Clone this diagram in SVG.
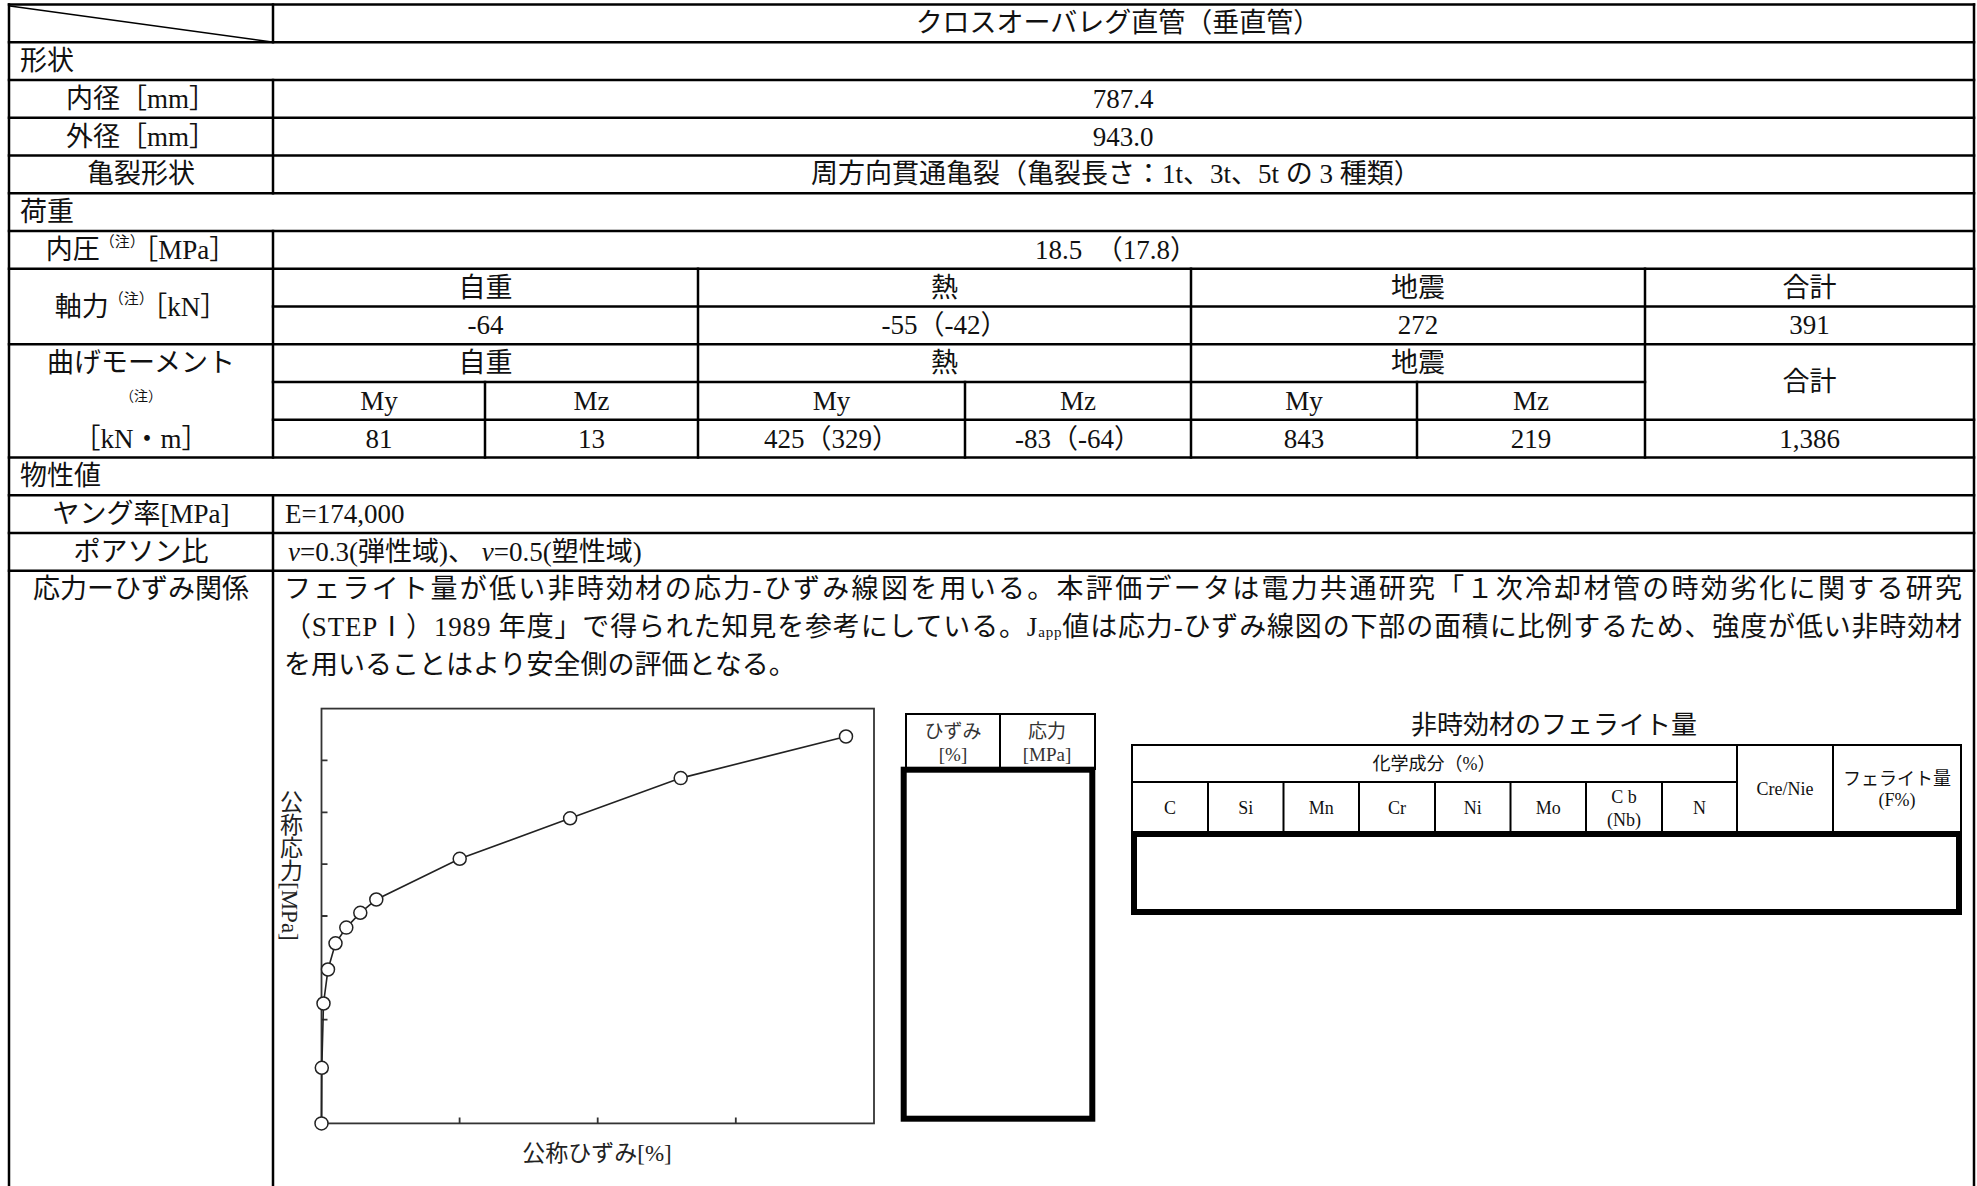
<svg xmlns="http://www.w3.org/2000/svg" width="1977" height="1186" viewBox="0 0 1977 1186">
<style>
.t{font-family:"Liberation Serif","Noto Sans CJK JP",serif;fill:#111;font-size:27px;dominant-baseline:central}
.m{text-anchor:middle}
.s{font-size:18px}
.ln{stroke:#000;stroke-width:2.5;fill:none;stroke-linecap:square}
.th{stroke:#000;stroke-width:2;fill:none}
.tk{stroke:#000;stroke-width:6;fill:none}
.ax{stroke:#333;stroke-width:1.8;fill:none}
.pt{fill:#fff;stroke:#222;stroke-width:1.5}
</style>
<rect width="1977" height="1186" fill="#fff"/>
<g id="table-lines">
<line class="ln" x1="9" y1="4.5" x2="1974" y2="4.5"/>
<line class="ln" x1="9" y1="4.5" x2="9" y2="1186"/>
<line class="ln" x1="1974" y1="4.5" x2="1974" y2="1186"/>
<line x1="10" y1="6" x2="272" y2="42" stroke="#000" stroke-width="1.5"/>
<line class="ln" x1="9" y1="42.25" x2="1974" y2="42.25"/>
<line class="ln" x1="9" y1="80" x2="1974" y2="80"/>
<line class="ln" x1="9" y1="117.75" x2="1974" y2="117.75"/>
<line class="ln" x1="9" y1="155.5" x2="1974" y2="155.5"/>
<line class="ln" x1="9" y1="193.25" x2="1974" y2="193.25"/>
<line class="ln" x1="9" y1="231" x2="1974" y2="231"/>
<line class="ln" x1="9" y1="268.75" x2="1974" y2="268.75"/>
<line class="ln" x1="273" y1="306.5" x2="1974" y2="306.5"/>
<line class="ln" x1="9" y1="344.25" x2="1974" y2="344.25"/>
<line class="ln" x1="273" y1="382" x2="1645" y2="382"/>
<line class="ln" x1="273" y1="419.75" x2="1974" y2="419.75"/>
<line class="ln" x1="9" y1="457.5" x2="1974" y2="457.5"/>
<line class="ln" x1="9" y1="495.25" x2="1974" y2="495.25"/>
<line class="ln" x1="9" y1="533" x2="1974" y2="533"/>
<line class="ln" x1="9" y1="570.75" x2="1974" y2="570.75"/>
<line class="ln" x1="273" y1="4.5" x2="273" y2="42.25"/>
<line class="ln" x1="273" y1="80" x2="273" y2="193.25"/>
<line class="ln" x1="273" y1="231" x2="273" y2="457.5"/>
<line class="ln" x1="273" y1="495.25" x2="273" y2="1186"/>
<line class="ln" x1="698" y1="268.75" x2="698" y2="457.5"/>
<line class="ln" x1="1191" y1="268.75" x2="1191" y2="457.5"/>
<line class="ln" x1="1645" y1="268.75" x2="1645" y2="457.5"/>
<line class="ln" x1="485" y1="382" x2="485" y2="457.5"/>
<line class="ln" x1="965" y1="382" x2="965" y2="457.5"/>
<line class="ln" x1="1417" y1="382" x2="1417" y2="457.5"/>
</g>
<g id="table-text">
<text class="t m" x="1118" y="23.4">クロスオーバレグ直管（垂直管）</text>
<text class="t" x="20" y="61">形状</text>
<text class="t m" x="141" y="99">内径［mm］</text>
<text class="t m" x="1123" y="99">787.4</text>
<text class="t m" x="141" y="137">外径［mm］</text>
<text class="t m" x="1123" y="137">943.0</text>
<text class="t m" x="141" y="174">亀裂形状</text>
<text class="t m" x="1116" y="174">周方向貫通亀裂（亀裂長さ：1t、3t、5t の 3 種類）</text>
<text class="t" x="20" y="212">荷重</text>
<text class="t m" x="141" y="250">内圧<tspan font-size="15" dy="-8">（注）</tspan><tspan dy="8">［MPa］</tspan></text>
<text class="t m" x="1116" y="250">18.5　（17.8）</text>
<text class="t m" x="141" y="306.5">軸力<tspan font-size="15" dy="-8">（注）</tspan><tspan dy="8">［kN］</tspan></text>
<text class="t m" x="485.5" y="287.6">自重</text>
<text class="t m" x="944.5" y="287.6">熱</text>
<text class="t m" x="1418" y="287.6">地震</text>
<text class="t m" x="1809.5" y="287.6">合計</text>
<text class="t m" x="485.5" y="325.4">-64</text>
<text class="t m" x="944.5" y="325.4">-55（-42）</text>
<text class="t m" x="1418" y="325.4">272</text>
<text class="t m" x="1809.5" y="325.4">391</text>
<text class="t m" x="141" y="363">曲げモーメント</text>
<text class="t m" x="141" y="396" style="font-size:14px">（注）</text>
<text class="t m" x="141" y="438.6">［kN・m］</text>
<text class="t m" x="485.5" y="363">自重</text>
<text class="t m" x="944.5" y="363">熱</text>
<text class="t m" x="1418" y="363">地震</text>
<text class="t m" x="1809.5" y="382">合計</text>
<text class="t m" x="379" y="401">My</text>
<text class="t m" x="591.5" y="401">Mz</text>
<text class="t m" x="831.5" y="401">My</text>
<text class="t m" x="1078" y="401">Mz</text>
<text class="t m" x="1304" y="401">My</text>
<text class="t m" x="1531" y="401">Mz</text>
<text class="t m" x="379" y="438.6">81</text>
<text class="t m" x="591.5" y="438.6">13</text>
<text class="t m" x="831.5" y="438.6">425（329）</text>
<text class="t m" x="1078" y="438.6">-83（-64）</text>
<text class="t m" x="1304" y="438.6">843</text>
<text class="t m" x="1531" y="438.6">219</text>
<text class="t m" x="1809.5" y="438.6">1,386</text>
<text class="t" x="20" y="476">物性値</text>
<text class="t m" x="141" y="514">ヤング率[MPa]</text>
<text class="t" x="285" y="514">E=174,000</text>
<text class="t m" x="141" y="552">ポアソン比</text>
<text class="t" x="288" y="552"><tspan font-style="italic">ν</tspan>=0.3(弾性域)、 <tspan font-style="italic">ν</tspan>=0.5(塑性域)</text>
<text class="t m" x="141" y="589">応力ーひずみ関係</text>
<text class="t" x="284" y="589" textLength="1678" lengthAdjust="spacing">フェライト量が低い非時効材の応力-ひずみ線図を用いる。本評価データは電力共通研究「１次冷却材管の時効劣化に関する研究</text>
<text class="t" x="284" y="627" textLength="1678" lengthAdjust="spacing">（STEPⅠ）1989 年度」で得られた知見を参考にしている。J<tspan font-size="15" dy="5">app</tspan><tspan dy="-5">値は応力-ひずみ線図の下部の面積に比例するため、強度が低い非時効材</tspan></text>
<text class="t" x="284" y="665">を用いることはより安全側の評価となる。</text>
</g>
<g id="chart">
<rect class="ax" x="321.5" y="708.6" width="552.5" height="414.8"/>
<path class="ax" d="M321.5 760.4h6M321.5 812.3h6M321.5 864.1h6M321.5 916h6M321.5 967.8h6M321.5 1019.7h6M321.5 1071.5h6M459.6 1123.4v-6M597.7 1123.4v-6M735.8 1123.4v-6"/>
<polyline fill="none" stroke="#222" stroke-width="1.6" points="321.5,1123.4 321.8,1067.8 323.5,1003.5 328,969.5 335.5,943.3 346.3,927.6 360.3,912.8 376.3,899.5 459.7,858.8 570.1,818.3 680.7,778.1 846,736.5"/>
<g>
<circle class="pt" cx="321.5" cy="1123.4" r="6.5"/>
<circle class="pt" cx="321.8" cy="1067.8" r="6.5"/>
<circle class="pt" cx="323.5" cy="1003.5" r="6.5"/>
<circle class="pt" cx="328" cy="969.5" r="6.5"/>
<circle class="pt" cx="335.5" cy="943.3" r="6.5"/>
<circle class="pt" cx="346.3" cy="927.6" r="6.5"/>
<circle class="pt" cx="360.3" cy="912.8" r="6.5"/>
<circle class="pt" cx="376.3" cy="899.5" r="6.5"/>
<circle class="pt" cx="459.7" cy="858.8" r="6.5"/>
<circle class="pt" cx="570.1" cy="818.3" r="6.5"/>
<circle class="pt" cx="680.7" cy="778.1" r="6.5"/>
<circle class="pt" cx="846" cy="736.5" r="6.5"/>
</g>
<text x="289" y="790" writing-mode="vertical-rl" style="font-family:'Liberation Serif','Noto Sans CJK JP',serif;font-size:23px;fill:#222">公称応力[MPa]</text>
<text class="t m" x="597" y="1153" style="font-size:23px;fill:#222">公称ひずみ[%]</text>
</g>
<g id="strain-table">
<rect class="th" x="906" y="714" width="189" height="55"/>
<line class="th" x1="1000" y1="714" x2="1000" y2="769"/>
<text class="t m" x="953" y="731" style="font-size:19px;fill:#333">ひずみ</text>
<text class="t m" x="953" y="754" style="font-size:19px;fill:#333">[%]</text>
<text class="t m" x="1047" y="731" style="font-size:19px;fill:#333">応力</text>
<text class="t m" x="1047" y="754" style="font-size:19px;fill:#333">[MPa]</text>
<rect class="tk" x="903.7" y="769.7" width="188.6" height="349"/>
</g>
<g id="ferrite-table">
<text class="t m" x="1554" y="725" style="font-size:26px">非時効材のフェライト量</text>
<rect class="th" x="1132" y="745" width="829" height="88"/>
<line class="th" x1="1132" y1="782" x2="1737" y2="782"/>
<path class="th" d="M1208 782V833M1283.5 782V833M1359 782V833M1435 782V833M1510.5 782V833M1586 782V833M1662 782V833M1737 745V833M1833 745V833"/>
<text class="t m s" x="1434" y="764">化学成分（%）</text>
<text class="t m s" x="1170" y="808">C</text>
<text class="t m s" x="1245.8" y="808">Si</text>
<text class="t m s" x="1321.3" y="808">Mn</text>
<text class="t m s" x="1397" y="808">Cr</text>
<text class="t m s" x="1472.8" y="808">Ni</text>
<text class="t m s" x="1548.3" y="808">Mo</text>
<text class="t m s" x="1624" y="797">C b</text>
<text class="t m s" x="1624" y="820">(Nb)</text>
<text class="t m s" x="1699.5" y="808">N</text>
<text class="t m s" x="1785" y="789">Cre/Nie</text>
<text class="t m s" x="1897" y="779">フェライト量</text>
<text class="t m s" x="1897" y="800">(F%)</text>
<rect class="tk" x="1134" y="834" width="825" height="78"/>
</g>
</svg>
